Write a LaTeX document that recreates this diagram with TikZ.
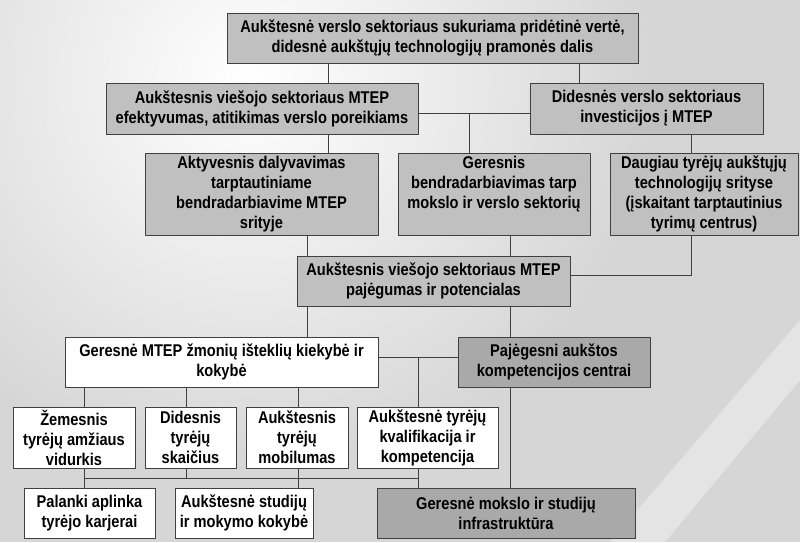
\documentclass[tikz,border=0pt]{standalone}
\usepackage{fontspec}
\setmainfont{Liberation Sans}[FakeStretch=0.86]
\usetikzlibrary{positioning,calc}
\definecolor{boxgray}{HTML}{C0C0C0}
\definecolor{boxdark}{HTML}{A9A9A9}
\definecolor{edgegray}{HTML}{404040}
\definecolor{bggray}{HTML}{D6D6D6}

\begin{document}
\begin{tikzpicture}[
  x=1pt, y=-1pt,
  tierbox/.style={rectangle, draw=edgegray, line width=1pt, fill=boxgray,
                  align=center, inner sep=2pt,
                  font=\fontsize{17}{20}\selectfont\bfseries},
  whitebox/.style={tierbox, fill=white},
  darkbox/.style={tierbox, fill=boxdark},
  link/.style={draw=edgegray, line width=0.9pt},
]
  % background
  \useasboundingbox (0,0) rectangle (800,542);
  \fill[bggray] (0,0) rectangle (800,542);
  \shade[inner color=white, outer color=bggray] (250,80) circle (400pt);
  \fill[white, opacity=0.35] (610,542) -- (800,320) -- (800,380) -- (665,542) -- cycle;

  % boxes
  \node[tierbox, minimum width=411, minimum height=50] (top) at (432.5,38)
    {Aukštesnė verslo sektoriaus sukuriama pridėtinė vertė,\\didesnė aukštųjų technologijų pramonės dalis};
  \node[tierbox, minimum width=312, minimum height=51] (effekt) at (262,108.5)
    {Aukštesnis viešojo sektoriaus MTEP\\efektyvumas, atitikimas verslo poreikiams};
  \node[tierbox, minimum width=233, minimum height=51] (invest) at (646.5,108.5)
    {Didesnės verslo sektoriaus\\investicijos į MTEP};
  \node[tierbox, minimum width=233, minimum height=82] (aktyv) at (261.5,194)
    {Aktyvesnis dalyvavimas\\tarptautiniame\\bendradarbiavime MTEP\\srityje};
  \node[tierbox, minimum width=192, minimum height=82, text depth=24] (bendr) at (494,194)
    {Geresnis\\bendradarbiavimas tarp\\mokslo ir verslo sektorių};
  \node[tierbox, minimum width=188, minimum height=82] (daugiau) at (704,194)
    {Daugiau tyrėjų aukštųjų\\technologijų srityse\\(įskaitant tarptautinius\\tyrimų centrus)};
  \node[tierbox, minimum width=273, minimum height=50] (pajeg) at (433.5,281)
    {Aukštesnis viešojo sektoriaus MTEP\\pajėgumas ir potencialas};
  \node[whitebox, minimum width=313, minimum height=50] (zmones) at (221.5,362)
    {Geresnė MTEP žmonių išteklių kiekybė ir\\kokybė};
  \node[darkbox, minimum width=192, minimum height=50] (centrai) at (554,362)
    {Pajėgesni aukštos\\kompetencijos centrai};
  \node[whitebox, minimum width=122, minimum height=61] (amzius) at (74,437.5)
    {Žemesnis\\tyrėjų amžiaus\\vidurkis};
  \node[whitebox, minimum width=91, minimum height=61] (skaicius) at (190.5,437.5)
    {Didesnis\\tyrėjų\\skaičius};
  \node[whitebox, minimum width=102, minimum height=61] (mobil) at (297,437.5)
    {Aukštesnis\\tyrėjų\\mobilumas};
  \node[whitebox, minimum width=141, minimum height=61] (kvalif) at (427.5,437.5)
    {Aukštesnė tyrėjų\\kvalifikacija ir\\kompetencija};
  \node[whitebox, minimum width=131, minimum height=50] (karjera) at (89.5,513)
    {Palanki aplinka\\tyrėjo karjerai};
  \node[whitebox, minimum width=138, minimum height=50] (studijos) at (244,513)
    {Aukštesnė studijų\\ir mokymo kokybė};
  \node[darkbox, minimum width=258, minimum height=50] (infra) at (506,513)
    {Geresnė mokslo ir studijų\\infrastruktūra};

  % junctions
  \coordinate (j1) at (469,113);
  \coordinate (j2) at (418,357);
  \coordinate (j3) at (84,478);

  % connectors
  \draw[link] (top.south -| 328,0) -- (effekt.north -| 328,0);
  \draw[link] (top.south -| 579,0) -- (invest.north -| 579,0);
  \draw[link] (effekt.east |- j1) -- (invest.west |- j1);
  \draw[link] (j1) -- (bendr.north -| j1);
  \draw[link] (effekt.south -| 328,0) -- (aktyv.north -| 328,0);
  \draw[link] (invest.south -| 691,0) -- (daugiau.north -| 691,0);
  \draw[link] (aktyv.south -| 307,0) -- (pajeg.north -| 307,0);
  \draw[link] (bendr.south -| 510,0) -- (pajeg.north -| 510,0);
  \draw[link] (daugiau.south -| 691,0) |- (pajeg.east |- 0,275);
  \draw[link] (pajeg.south -| 307,0) -- (zmones.north -| 307,0);
  \draw[link] (pajeg.south -| 510,0) -- (centrai.north -| 510,0);
  \draw[link] (zmones.east |- j2) -- (centrai.west |- j2);
  \draw[link] (j2) -- (kvalif.north -| j2);
  \draw[link] (zmones.south -| j3) -- (amzius.north -| j3);
  \draw[link] (zmones.south -| 186,0) -- (skaicius.north -| 186,0);
  \draw[link] (zmones.south -| 298,0) -- (mobil.north -| 298,0);
  \draw[link] (amzius.south -| j3) -- (karjera.north -| j3);
  \draw[link] (j3) -- (j3 -| j2);
  \draw[link] (skaicius.south -| 186,0) -- (j3 -| 186,0);
  \draw[link] (mobil.south -| 298,0) -- (studijos.north -| 298,0);
  \draw[link] (kvalif.south -| j2) -- (infra.north -| j2);
  \draw[link] (centrai.south -| 510,0) -- (infra.north -| 510,0);
\end{tikzpicture}
\end{document}
